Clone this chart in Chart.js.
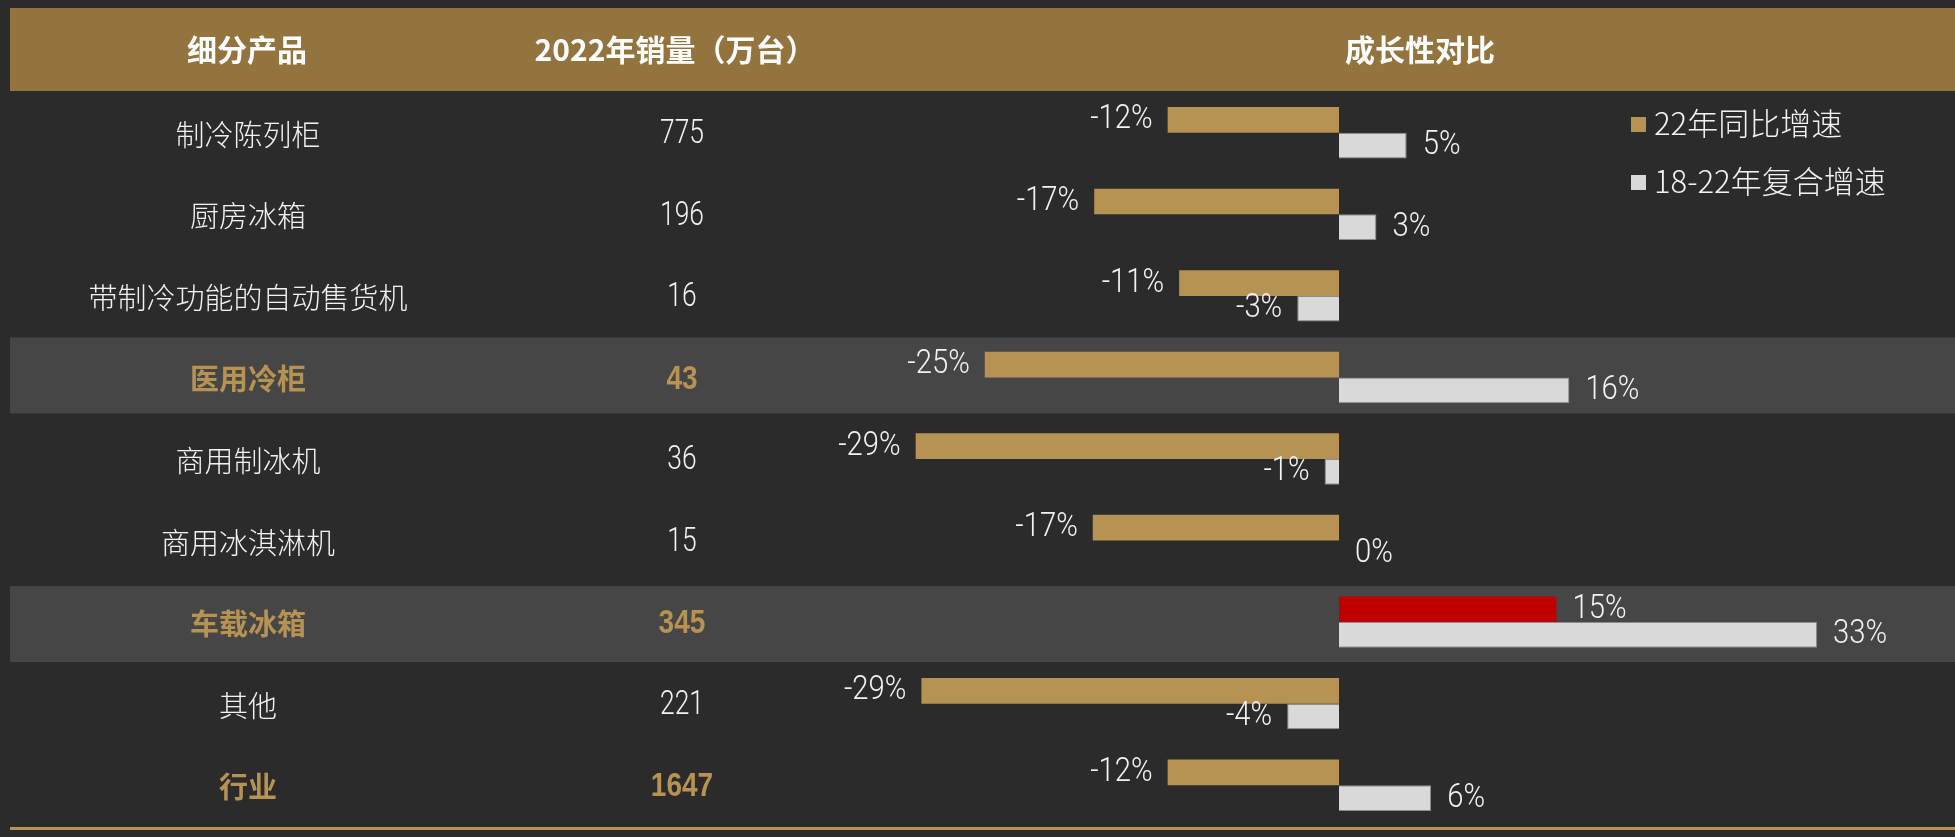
<!DOCTYPE html>
<html>
<head>
  <meta charset="utf-8">
  <title>细分产品成长性对比</title>
  <script src="https://cdn.jsdelivr.net/npm/chart.js"></script>
  <style>
    body { margin: 0; background: #2b2b2b; }
    #wrap { width: 1955px; height: 837px; }
  </style>
</head>
<body>
  <div id="wrap"><canvas id="chart" width="1955" height="837"></canvas></div>

  <script>
    const headers = ['细分产品', '2022年销量（万台）', '成长性对比'];
    const categories = ['制冷陈列柜', '厨房冰箱', '带制冷功能的自动售货机', '医用冷柜', '商用制冰机', '商用冰淇淋机', '车载冰箱', '其他', '行业'];
    const sales = [775, 196, 16, 43, 36, 15, 345, 221, 1647];
    const yoyGrowth = [-11.9, -17.0, -11.1, -24.6, -29.4, -17.1, 15.1, -29.0, -11.9];   // 22年同比增速
    const cagrGrowth = [4.7, 2.6, -2.9, 16.0, -1.0, 0, 33.2, -3.6, 6.4];              // 18-22年复合增速
    const bandRows = [3, 6];        // rows with grey background
    const goldRows = [3, 6, 8];     // rows with gold bold text
    const redRow = 6;

    const GOLD = '#b69253';
    const TEXT = '#f2f2f2';
    const CJK = '"Noto Sans CJK SC", "Noto Sans", sans-serif';
    const NUM = 'Roboto, "Liberation Sans", sans-serif';
    const NUM_BOLD = '"Liberation Sans", Arial, sans-serif';

    // condensed number text (original uses a narrow face)
    function narrowText(ctx, text, x, y, align, size, bold, color, sx) {
      ctx.save();
      ctx.font = bold ? ('bold ' + size + 'px ' + NUM_BOLD) : ('300 ' + size + 'px ' + NUM);
      ctx.fillStyle = color;
      ctx.textBaseline = 'middle';
      ctx.textAlign = align;
      ctx.translate(x, y);
      ctx.scale(sx, 1);
      ctx.fillText(text, 0, 0);
      ctx.restore();
    }

    const tablePlugin = {
      id: 'table',
      beforeDraw(chart) {
        const ctx = chart.ctx;
        const yScale = chart.scales.y;
        ctx.save();
        ctx.fillStyle = '#2b2b2b';
        ctx.fillRect(0, 0, chart.width, chart.height);
        // header band
        ctx.fillStyle = '#94743e';
        ctx.fillRect(10, 8, chart.width - 10, 83);
        // highlighted rows
        ctx.fillStyle = '#464646';
        bandRows.forEach(i => {
          const y = yScale.getPixelForValue(i);
          ctx.fillRect(10, y - 40 + (i > 4 ? 4 : 0), chart.width - 10, 76);
        });
        // bottom rule
        ctx.fillStyle = GOLD;
        ctx.fillRect(10, chart.chartArea.bottom + 1, chart.width - 10, 3);
        ctx.restore();
      },
      afterDatasetsDraw(chart) {
        const ctx = chart.ctx;
        const yScale = chart.scales.y;

        // header text
        ctx.save();
        ctx.fillStyle = '#ffffff';
        ctx.font = 'bold 30px ' + CJK;
        ctx.textAlign = 'center';
        ctx.textBaseline = 'middle';
        [247, 675, 1420].forEach((cx, i) => ctx.fillText(headers[i], cx, 50));

        // table columns
        categories.forEach((name, i) => {
          const y = yScale.getPixelForValue(i);
          const gold = goldRows.includes(i);
          ctx.font = (gold ? 'bold ' : '300 ') + '29px ' + CJK;
          ctx.fillStyle = gold ? GOLD : TEXT;
          ctx.fillText(name, 248, y + 2);
          narrowText(ctx, String(sales[i]), 682, y + 2, 'center', 33, gold, gold ? GOLD : TEXT, gold ? 0.85 : 0.8);
        });
        ctx.restore();

        // bar value labels
        chart.data.datasets.forEach((ds, di) => {
          const meta = chart.getDatasetMeta(di);
          meta.data.forEach((bar, i) => {
            const v = ds.data[i];
            const txt = Math.round(v) + '%';
            if (v < 0) {
              narrowText(ctx, txt, bar.x - 15, bar.y, 'right', 34, false, TEXT, 0.86);
            } else {
              narrowText(ctx, txt, Math.max(bar.x, bar.base) + 16, bar.y, 'left', 34, false, TEXT, 0.86);
            }
          });
        });

        // legend
        ctx.save();
        ctx.font = '300 31px ' + CJK;
        ctx.textBaseline = 'middle';
        ctx.textAlign = 'left';
        const legendY = [124, 182];
        chart.data.datasets.forEach((ds, di) => {
          const c = Array.isArray(ds.backgroundColor) ? ds.backgroundColor[0] : ds.backgroundColor;
          ctx.fillStyle = c;
          ctx.fillRect(1631, legendY[di] - 7, 15, 15);
          ctx.fillStyle = TEXT;
          ctx.fillText(ds.label, 1654, legendY[di] - 1);
        });
        ctx.restore();
      }
    };

    const yoyColors = yoyGrowth.map((v, i) => i === redRow ? '#c00000' : GOLD);

    new Chart(document.getElementById('chart'), {
      type: 'bar',
      data: {
        labels: categories,
        datasets: [
          {
            label: '22年同比增速',
            data: yoyGrowth,
            backgroundColor: yoyColors,
            borderWidth: 0,
            categoryPercentage: 0.63,
            barPercentage: 1.0
          },
          {
            label: '18-22年复合增速',
            data: cagrGrowth,
            backgroundColor: '#d9d9d9',
            borderColor: '#8c8c8c',
            borderWidth: 1,
            categoryPercentage: 0.63,
            barPercentage: 1.0
          }
        ]
      },
      options: {
        indexAxis: 'y',
        responsive: false,
        animation: false,
        devicePixelRatio: 1,
        layout: { padding: { left: 763, right: 40, top: 92, bottom: 11 } },
        plugins: {
          legend: { display: false },
          tooltip: { enabled: false }
        },
        scales: {
          x: { min: -40, max: 40, display: false },
          y: { display: false, grid: { display: false } }
        }
      },
      plugins: [tablePlugin]
    });
  </script>
</body>
</html>
